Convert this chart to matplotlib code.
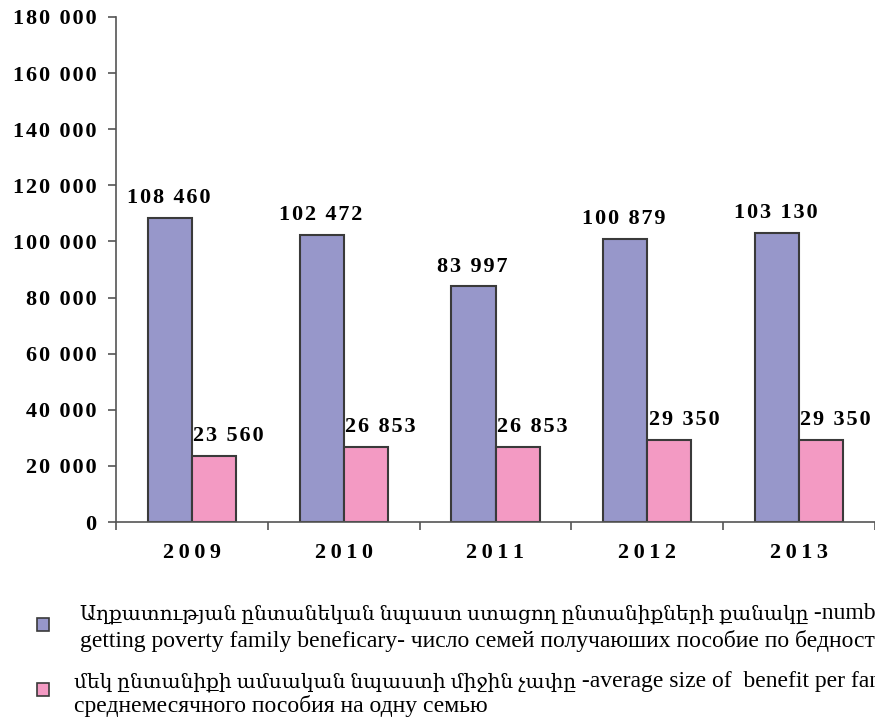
import matplotlib
matplotlib.use("Agg")
import matplotlib.pyplot as plt
import numpy as np

years = ["2009", "2010", "2011", "2012", "2013"]
families = [108460, 102472, 83997, 100879, 103130]
benefit = [23560, 26853, 26853, 29350, 29350]
yticks = [0, 20000, 40000, 60000, 80000, 100000, 120000, 140000, 160000, 180000]

legend1_hy = "Աղքատության ընտանեկան նպաստ ստացող ընտանիքների քանակը"
legend1_rest = " -number of families"
legend1_line2 = "getting poverty family beneficary- число семей получаюших пособие по бедности"
legend2_hy = "մեկ ընտանիքի ամսական նպաստի միջին չափը"
legend2_rest = " -average size of  benefit per family -"
legend2_line2 = "среднемесячного пособия на одну семью"

BLUE = "#9797CA"
PINK = "#F39AC3"
EDGE = "#3a3a3a"
SERIF = ["Liberation Serif", "DejaVu Serif"]

def sp(s, ch="\u200a"):
    return ch.join(s)

def fmt(v):
    return f"{int(v):,}".replace(",", " ")

fig = plt.figure(figsize=(8.75, 7.22), dpi=100)
ax = fig.add_axes([116/875, 1-522/722, 1-116/875, (522-17)/722])

x = np.arange(len(years))
w = 0.29
ax.bar(x - w/2, families, w, color=BLUE, edgecolor=EDGE, linewidth=1.5, zorder=2)
ax.bar(x + w/2, benefit, w, color=PINK, edgecolor=EDGE, linewidth=1.5, zorder=2)

FS = 16
for i in range(len(years)):
    ax.annotate(sp(fmt(families[i])), (x[i] - w/2, families[i]), xytext=(-1, 7),
                textcoords="offset points", ha="center", va="bottom",
                fontsize=FS, fontweight="bold", family=SERIF)
    ax.annotate(sp(fmt(benefit[i])), (x[i], benefit[i]), xytext=(1, 7),
                textcoords="offset points", ha="left", va="bottom",
                fontsize=FS, fontweight="bold", family=SERIF, annotation_clip=False)

ax.set_xlim(-0.5, len(years) - 0.5)
ax.set_ylim(0, 180000)
ax.set_yticks(yticks)
ax.set_yticklabels([sp(fmt(v)) for v in yticks], fontsize=FS, fontweight="bold", family=SERIF)
ax.set_xticks(np.arange(len(years) + 1) - 0.5)
ax.set_xticklabels([])
ax.set_xticks(x, minor=True)
ax.set_xticklabels([sp(y, "\u2009") for y in years], minor=True, fontsize=FS, fontweight="bold", family=SERIF)
ax.tick_params(axis="x", which="minor", length=0, pad=15)
ax.tick_params(axis="x", which="major", length=6, width=1.2, color="#555555")
ax.tick_params(axis="y", length=6, width=1.2, color="#555555", pad=8)
for s in ["top", "right"]:
    ax.spines[s].set_visible(False)
for s in ["left", "bottom"]:
    ax.spines[s].set_color("#555555")
    ax.spines[s].set_linewidth(1.2)

# legend
def square(xp, yp, c):
    fig.patches.append(plt.Rectangle((xp/875, 1-yp/722), 12/875, 13/722, transform=fig.transFigure,
                                     facecolor=c, edgecolor=EDGE, linewidth=1.2))
square(37, 631, BLUE)
square(37, 696, PINK)
fs = 17
fs_hy = 14.5
renderer = fig.canvas.get_renderer()

def two_part(xp, yp, hy, rest):
    t = fig.text(xp/875, 1-yp/722, hy, fontsize=fs_hy, family=SERIF, va="baseline", ha="left")
    bb = t.get_window_extent(renderer)
    fig.text(bb.x1/875, 1-yp/722, rest, fontsize=fs, family=SERIF, va="baseline", ha="left")

two_part(80, 619, legend1_hy, legend1_rest)
fig.text(80/875, 1-647/722, legend1_line2, fontsize=fs, family=SERIF, va="baseline", ha="left")
two_part(74, 687, legend2_hy, legend2_rest)
fig.text(74/875, 1-712/722, legend2_line2, fontsize=fs, family=SERIF, va="baseline", ha="left")

fig.savefig("out.png", dpi=100)
